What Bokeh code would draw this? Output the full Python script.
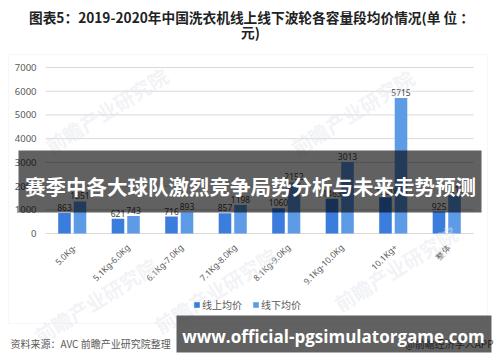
from math import pi

from bokeh.core.properties import value
from bokeh.embed import file_html
from bokeh.models import (BoxAnnotation, ColumnDataSource, Label, Legend,
                          LegendItem, Range1d)
from bokeh.plotting import figure
from bokeh.resources import INLINE
from bokeh.transform import dodge

# ---- data -------------------------------------------------------------
categories = ["5.0Kg-", "5.1Kg-6.0Kg", "6.1Kg-7.0Kg", "7.1Kg-8.0Kg",
              "8.1Kg-9.0Kg", "9.1Kg-10.0Kg", "10.1Kg+", "整体"]
online_price = [863, 621, 716, 857, 1060, 1463, 1530, 925]
offline_price = [1351, 743, 893, 1198, 2152, 3013, 5715, 1612]
y_ticks = [0, 1000, 2000, 3000, 4000, 5000, 6000, 7000]
series_names = ["线上均价", "线下均价"]

title_line1 = "图表5：2019-2020年中国洗衣机线上线下波轮各容量段均价情况(单 位 ："
title_line2 = "元)"
source_note = "资料来源：AVC 前瞻产业研究院整理"
app_note = "@前瞻经济学人APP"
watermark = "前瞻产业研究院"
banner_top_text = "赛季中各大球队激烈竞争局势分析与未来走势预测"
banner_bottom_text = "www.official-pgsimulatorgame.com"

# ---- style ------------------------------------------------------------
ONLINE = "#3a7ddc"
OFFLINE = "#5e9be6"
GRID = "#d9d9d9"
TEXT = "#595959"
CJK = "Noto Sans CJK SC"
W, H = 500, 362
# plot area in page pixels: left, right, top (y=7000), bottom (y=0)
FL, FR, FT, FB = 45, 473, 67, 233
Y_MAX = 7000

n = len(categories)
cat_px = (FR - FL) / n              # pixels per category
val_px = (FB - FT) / Y_MAX          # pixels per price unit

src = ColumnDataSource(dict(
    x=[i + 0.5 for i in range(n)],
    cat=categories,
    online=online_price,
    offline=offline_price,
    online_txt=[str(v) for v in online_price],
    offline_txt=[str(v) for v in offline_price],
))
ticks = ColumnDataSource(dict(t=y_ticks, txt=[str(t) for t in y_ticks]))

# the frame covers the whole page; ranges are chosen so the value axis
# runs 0..7000 between FB and FT and categories fill FL..FR
p = figure(width=W, height=H,
           x_range=Range1d(-FL / cat_px, n + (W - FR) / cat_px),
           y_range=Range1d(-(H - FB) / val_px, Y_MAX + FT / val_px),
           x_axis_type=None, y_axis_type=None,
           output_backend="svg", toolbar_location=None,
           min_border=0, outline_line_color=None,
           background_fill_color="white", border_fill_color="white")
p.grid.visible = False

# faint brand marks in the background
for wx, wy in ((106, 110), (352, 112), (215, 290), (395, 268), (95, 300)):
    p.add_layout(Label(x=wx, y=wy, x_units="canvas", y_units="canvas", text=watermark,
                       angle=32, angle_units="deg", text_align="center",
                       text_baseline="middle", text_font=CJK, text_font_size="20px",
                       text_font_style="bold", text_color="#dfe5ee", text_alpha=0.45))

# chart frame box
p.add_layout(BoxAnnotation(left=8, right=487, top=54, bottom=323,
                           left_units="canvas", right_units="canvas",
                           top_units="canvas", bottom_units="canvas",
                           fill_alpha=0, line_color="#e3e3e3", line_width=1))

# value gridlines and tick labels
p.segment(x0=0, x1=n, y0="t", y1="t", source=ticks, line_color=GRID, line_width=1)
p.text(x=0, y="t", text="txt", source=ticks, x_offset=-9, text_align="right",
       text_baseline="middle", text_font=value("Noto Sans"),
       text_font_size="9.5px", text_color=TEXT)

# category labels, rotated
p.text(x=dodge("x", 0.04), y=0, text="cat", source=src, angle=pi / 4,
       y_offset=12, text_align="right", text_baseline="middle",
       text_font=value("Noto Sans"), text_font_size="8.5px", text_color=TEXT)

# bars
r_on = p.vbar(x=dodge("x", -0.145), top="online", width=0.235, source=src,
              fill_color=ONLINE, line_color=None)
r_off = p.vbar(x=dodge("x", 0.145), top="offline", width=0.235, source=src,
               fill_color=OFFLINE, line_color=None)

for off, col in ((-0.145, "online"), (0.145, "offline")):
    p.text(x=dodge("x", off), y=col, text=col + "_txt", source=src, y_offset=-2,
           text_align="center", text_baseline="bottom", text_font=value("Noto Sans"),
           text_font_size="8.5px", text_color="#404040")

# legend under the bars
legend = Legend(items=[LegendItem(label=series_names[0], renderers=[r_on]),
                       LegendItem(label=series_names[1], renderers=[r_off])],
                orientation="horizontal", location=(193, 50),
                glyph_width=7, glyph_height=7, spacing=10, padding=0, margin=0,
                label_standoff=2, label_text_font=CJK, label_text_font_size="10px",
                label_text_color=TEXT, border_line_color=None,
                background_fill_alpha=0)
p.add_layout(legend, "center")


def text_at(x, y, txt, size, color, font=CJK, style="normal", align="left"):
    p.add_layout(Label(x=x, y=y, x_units="canvas", y_units="canvas", text=txt,
                       text_font=font, text_font_size=size, text_font_style=style,
                       text_color=color, text_align=align, text_baseline="middle"))


# title and notes
text_at(251, 16, title_line1, "13.7px", "#222222", style="bold", align="center")
text_at(250, 31, title_line2, "13.7px", "#222222", style="bold", align="center")
text_at(10, 343, source_note, "10px", TEXT)
text_at(493, 343, app_note, "10px", TEXT, align="right")

# overlay banners
for l, r, t, b in ((18, 481, 150, 212), (176, 491, 315, 352)):
    p.add_layout(BoxAnnotation(left=l, right=r, top=t, bottom=b,
                               left_units="canvas", right_units="canvas",
                               top_units="canvas", bottom_units="canvas",
                               fill_color="black", fill_alpha=0.62, line_color=None))

text_at(250, 185, banner_top_text, "20.5px", "white", style="bold", align="center")
text_at(333, 336, banner_bottom_text, "17px", "white", font="Open Sans",
        style="bold", align="center")

open("out.html", "w").write(file_html(p, INLINE))
